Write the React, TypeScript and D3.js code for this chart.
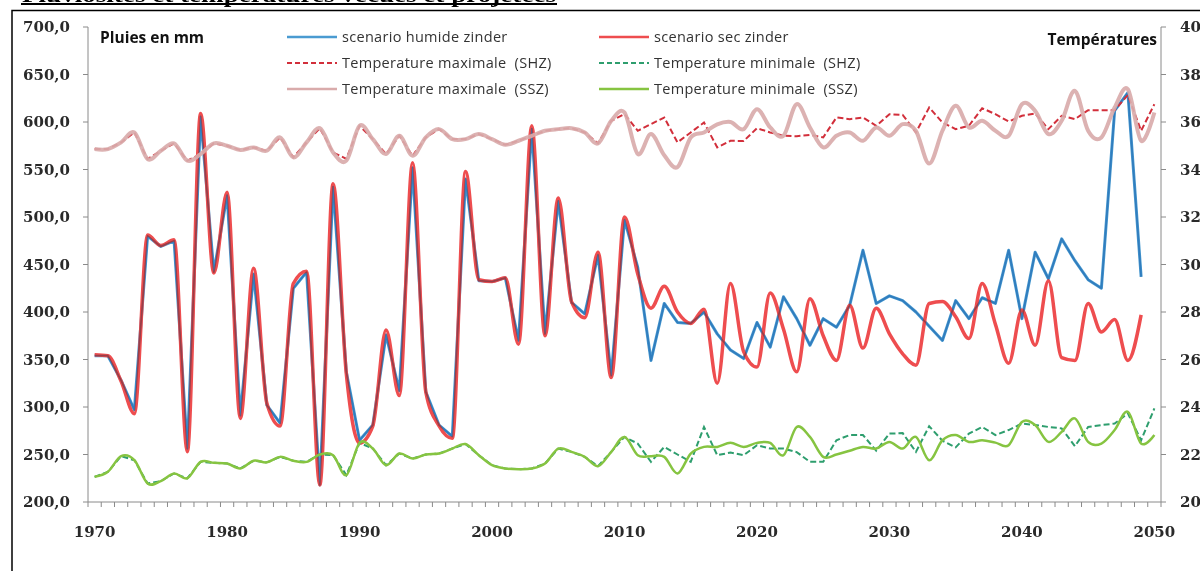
import React from "react";
import * as d3 from "d3";

// Categories: one per year, 1970–2050
const years: number[] = d3.range(1970, 2051);
const yearLabels = [1970, 1980, 1990, 2000, 2010, 2020, 2030, 2040, 2050];
const rainTicks = [200, 250, 300, 350, 400, 450, 500, 550, 600, 650, 700];
const tempTicks = [20, 22, 24, 26, 28, 30, 32, 34, 36, 38, 40];

// Pluies (mm), 1970–2049
const rainHumid = [
  354, 354, 328, 297, 480, 469, 475, 256, 606, 442,
  523, 291, 440, 302, 283, 425, 442, 218, 532, 337,
  265, 281, 376, 317, 552, 316, 281, 269, 540, 433,
  432, 436, 370, 593, 377, 517, 410, 398, 460, 333,
  497, 447, 349, 409, 389, 388, 400, 377, 360, 351,
  389, 363, 416, 393, 365, 393, 384, 407, 465, 409,
  417, 412, 400, 385, 370, 412, 393, 415, 409, 465,
  393, 463, 435, 477, 454, 434, 425, 612, 631, 437,
];
const rainSec = [
  355, 354, 327, 293, 481, 470, 476, 253, 609, 441,
  526, 288, 446, 304, 280, 430, 443, 218, 535, 335,
  262, 280, 381, 312, 557, 316, 280, 267, 548, 434,
  432, 436, 366, 596, 375, 520, 411, 394, 463, 331,
  500, 440, 404, 427, 400, 388, 403, 325, 430, 358,
  342, 420, 382, 337, 414, 375, 349, 407, 362, 404,
  377, 356, 344, 409, 411, 395, 372, 430, 387, 346,
  402, 365, 433, 352, 349, 409, 379, 392, 349, 397,
];

// Températures (°C), 1970–2050
const tmaxSHZ = [
  34.86, 34.86, 35.14, 35.56, 34.44, 34.79, 35.10, 34.37, 34.65, 35.10,
  35.00, 34.82, 34.93, 34.79, 35.35, 34.51, 35.14, 35.74, 34.72, 34.45,
  35.84, 35.28, 34.65, 35.42, 34.58, 35.35, 35.70, 35.28, 35.28, 35.49,
  35.28, 35.04, 35.21, 35.42, 35.63, 35.70, 35.74, 35.56, 35.10, 36.05,
  36.33, 35.63, 35.91, 36.19, 35.14, 35.56, 35.98, 34.93, 35.21, 35.20,
  35.74, 35.56, 35.42, 35.40, 35.46, 35.35, 36.19, 36.12, 36.19, 35.84,
  36.33, 36.30, 35.56, 36.61, 35.98, 35.70, 35.84, 36.58, 36.33, 36.02,
  36.26, 36.36, 35.70, 36.26, 36.12, 36.50, 36.50, 36.50, 37.14, 35.63,
  36.75,
];
const tminSHZ = [
  21.06, 21.27, 21.93, 21.76, 20.78, 20.88, 21.20, 21.00, 21.69, 21.65,
  21.62, 21.41, 21.74, 21.67, 21.90, 21.74, 21.69, 22.00, 21.97, 21.13,
  22.49, 22.25, 21.55, 22.04, 21.83, 22.00, 22.04, 22.25, 22.44, 21.97,
  21.55, 21.41, 21.38, 21.41, 21.62, 22.25, 22.11, 21.90, 21.51, 22.11,
  22.74, 22.46, 21.69, 22.32, 22.00, 21.69, 23.16, 21.97, 22.08, 21.97,
  22.39, 22.25, 22.25, 22.10, 21.69, 21.69, 22.60, 22.82, 22.82, 22.16,
  22.88, 22.90, 22.11, 23.19, 22.58, 22.30, 22.88, 23.16, 22.82, 23.03,
  23.30, 23.24, 23.16, 23.10, 22.35, 23.16, 23.24, 23.30, 23.73, 22.60,
  23.94,
];
const tmaxSSZ = [
  34.86, 34.86, 35.14, 35.56, 34.44, 34.79, 35.10, 34.37, 34.65, 35.10,
  35.00, 34.82, 34.93, 34.79, 35.35, 34.51, 35.14, 35.74, 34.72, 34.37,
  35.84, 35.28, 34.65, 35.42, 34.58, 35.35, 35.70, 35.28, 35.28, 35.49,
  35.28, 35.04, 35.21, 35.42, 35.63, 35.70, 35.74, 35.56, 35.10, 36.05,
  36.40, 34.65, 35.49, 34.60, 34.10, 35.35, 35.56, 35.90, 36.00, 35.70,
  36.54, 35.77, 35.42, 36.75, 35.77, 34.93, 35.42, 35.56, 35.21, 35.77,
  35.42, 35.91, 35.63, 34.25, 35.63, 36.68, 35.77, 36.05, 35.63, 35.42,
  36.75, 36.47, 35.49, 36.05, 37.31, 35.63, 35.35, 36.61, 37.38, 35.21,
  36.40,
];
const tminSSZ = [
  21.06, 21.27, 21.93, 21.76, 20.78, 20.88, 21.20, 21.00, 21.69, 21.65,
  21.62, 21.41, 21.74, 21.67, 21.90, 21.74, 21.69, 22.00, 21.97, 21.13,
  22.49, 22.25, 21.55, 22.04, 21.83, 22.00, 22.04, 22.25, 22.44, 21.97,
  21.55, 21.41, 21.38, 21.41, 21.62, 22.25, 22.11, 21.90, 21.51, 22.11,
  22.74, 21.97, 21.93, 21.90, 21.20, 22.04, 22.32, 22.32, 22.49, 22.32,
  22.49, 22.49, 21.97, 23.16, 22.74, 21.90, 22.00, 22.16, 22.32, 22.25,
  22.53, 22.25, 22.74, 21.76, 22.60, 22.82, 22.53, 22.60, 22.50, 22.39,
  23.37, 23.24, 22.53, 22.95, 23.52, 22.53, 22.46, 23.03, 23.80, 22.46,
  22.82,
];

const W = 1200;
const H = 571;
const plot = { left: 88, right: 1161, top: 27, bottom: 502 };

const axisFont = "'DejaVu Serif', serif";
const sansFont = "'Open Sans', Lato, sans-serif";
const axisColor = "#8a8a8a";

const legendItems = [
  { label: "scenario humide zinder", color: "#4a9bd1", width: 2.5, dash: "", col: 0, row: 0 },
  { label: "scenario sec zinder", color: "#ee4d4f", width: 2.5, dash: "", col: 1, row: 0 },
  { label: "Temperature maximale  (SHZ)", color: "#d22f3b", width: 2, dash: "5 3", col: 0, row: 1 },
  { label: "Temperature minimale  (SHZ)", color: "#2e9e6e", width: 2, dash: "5 3", col: 1, row: 1 },
  { label: "Temperature maximale  (SSZ)", color: "#d9abab", width: 2.5, dash: "", col: 0, row: 2 },
  { label: "Temperature minimale  (SSZ)", color: "#86c441", width: 2.5, dash: "", col: 1, row: 2 },
];

const fmtRain = (v: number) => d3.format(".1f")(v).replace(".", ",");

export default function App() {
  const x = d3
    .scaleBand<number>()
    .domain(years)
    .range([plot.left, plot.right])
    .paddingInner(0)
    .paddingOuter(0);
  const cx = (yr: number) => (x(yr) as number) + x.bandwidth() / 2;
  const yRain = d3.scaleLinear().domain([200, 700]).range([plot.bottom, plot.top]);
  const yTemp = d3.scaleLinear().domain([20, 40]).range([plot.bottom, plot.top]);

  const rainLine = (vals: number[], curve: d3.CurveFactory) =>
    d3
      .line<number>()
      .x((_, i) => cx(years[i]))
      .y((v) => yRain(v))
      .curve(curve)(vals) as string;
  const tempLine = (vals: number[], curve: d3.CurveFactory) =>
    d3
      .line<number>()
      .x((_, i) => cx(years[i]))
      .y((v) => yTemp(v))
      .curve(curve)(vals) as string;

  const smooth = d3.curveCardinal.tension(0);
  const smoothFlat = d3.curveMonotoneX;
  const straight = d3.curveLinear;

  const bandEdges = d3.range(years.length + 1).map((i) => plot.left + i * x.bandwidth());

  const legendX = [287, 599];
  const legendY = [37, 63, 89];

  return (
    <div style={{ position: "absolute", left: 0, top: 0, width: W, height: H, background: "#fff" }}>
      <svg width={W} height={H} style={{ display: "block" }}>
        <rect x={0} y={0} width={W} height={H} fill="#fff" />

        {/* Title, partly cut off at the top edge */}
        <text
          x={22}
          y={1.5}
          fontFamily="'Liberation Serif', serif"
          fontWeight="bold"
          fontSize={21}
          textLength={534}
          lengthAdjust="spacingAndGlyphs"
          fill="#000"
        >
          Pluviosités et températures vécues et projetées
        </text>
        <line x1={21} x2={557} y1={4} y2={4} stroke="#000" strokeWidth={2} />

        {/* Frame */}
        <rect x={12} y={10.5} width={W + 20} height={H + 20} fill="none" stroke="#000" strokeWidth={1.5} />

        {/* Axes */}
        <line x1={plot.left} x2={plot.left} y1={plot.top} y2={plot.bottom} stroke={axisColor} strokeWidth={1} />
        <line x1={plot.right} x2={plot.right} y1={plot.top} y2={plot.bottom} stroke={axisColor} strokeWidth={1} />
        <line x1={plot.left} x2={plot.right} y1={plot.bottom} y2={plot.bottom} stroke={axisColor} strokeWidth={1} />

        {rainTicks.map((t) => (
          <g key={"l" + t}>
            <line x1={plot.left - 5} x2={plot.left} y1={yRain(t)} y2={yRain(t)} stroke={axisColor} />
            <text
              x={70}
              y={yRain(t)}
              dy="0.36em"
              textAnchor="end"
              fontFamily={axisFont}
              fontWeight="bold"
              fontSize={15}
              fill="#2a2a2a"
            >
              {fmtRain(t)}
            </text>
          </g>
        ))}

        {tempTicks.map((t) => (
          <g key={"r" + t}>
            <line x1={plot.right} x2={plot.right + 5} y1={yTemp(t)} y2={yTemp(t)} stroke={axisColor} />
            <text
              x={1180}
              y={yTemp(t)}
              dy="0.36em"
              fontFamily={axisFont}
              fontWeight="bold"
              fontSize={15}
              fill="#2a2a2a"
            >
              {t}
            </text>
          </g>
        ))}

        {bandEdges.map((bx, i) => (
          <line key={"t" + i} x1={bx} x2={bx} y1={plot.bottom} y2={plot.bottom + 5} stroke={axisColor} />
        ))}
        {yearLabels.map((yr) => (
          <text
            key={"y" + yr}
            x={cx(yr)}
            y={537}
            textAnchor="middle"
            fontFamily={axisFont}
            fontWeight="bold"
            fontSize={15}
            fill="#2a2a2a"
          >
            {yr}
          </text>
        ))}

        {/* Axis titles */}
        <text x={100} y={43} fontFamily={sansFont} fontWeight="bold" fontSize={15.5} fill="#111">
          Pluies en mm
        </text>
        <text x={1157} y={45} textAnchor="end" fontFamily={sansFont} fontWeight="bold" fontSize={15.5} fill="#111">
          Températures
        </text>

        {/* Rainfall series */}
        <path d={rainLine(rainHumid, straight)} fill="none" stroke="#4a9bd1" strokeWidth={3} strokeLinejoin="round" />
        <path d={rainLine(rainSec, smoothFlat)} fill="none" stroke="#ee4d4f" strokeWidth={3.5} strokeLinejoin="round" />
        <path
          d={rainLine(rainHumid, straight)}
          fill="none"
          stroke="#4a9bd1"
          strokeWidth={1.8}
          strokeLinejoin="round"
          opacity={0.5}
          style={{ mixBlendMode: "multiply" }}
        />

        {/* Temperature series */}
        <path d={tempLine(tmaxSHZ, straight)} fill="none" stroke="#d22f3b" strokeWidth={2} strokeDasharray="6 3" />
        <path d={tempLine(tminSHZ, straight)} fill="none" stroke="#2e9e6e" strokeWidth={2} strokeDasharray="6 3" />
        <path d={tempLine(tmaxSSZ, smooth)} fill="none" stroke="#d9abab" strokeWidth={4} strokeLinejoin="round" opacity={0.92} />
        <path d={tempLine(tminSSZ, smooth)} fill="none" stroke="#86c441" strokeWidth={2.5} strokeLinejoin="round" />

        {/* Legend */}
        {legendItems.map((it) => {
          const lx = legendX[it.col];
          const ly = legendY[it.row];
          return (
            <g key={it.label}>
              <line
                x1={lx}
                x2={lx + 50}
                y1={ly}
                y2={ly}
                stroke={it.color}
                strokeWidth={it.width}
                strokeDasharray={it.dash || undefined}
              />
              <text
                x={lx + 55}
                y={ly}
                dy="0.35em"
                fontFamily={sansFont}
                fontSize={14.5}
                letterSpacing={0.3}
                fill="#333"
                style={{ whiteSpace: "pre" }}
              >
                {it.label}
              </text>
            </g>
          );
        })}
      </svg>
    </div>
  );
}
